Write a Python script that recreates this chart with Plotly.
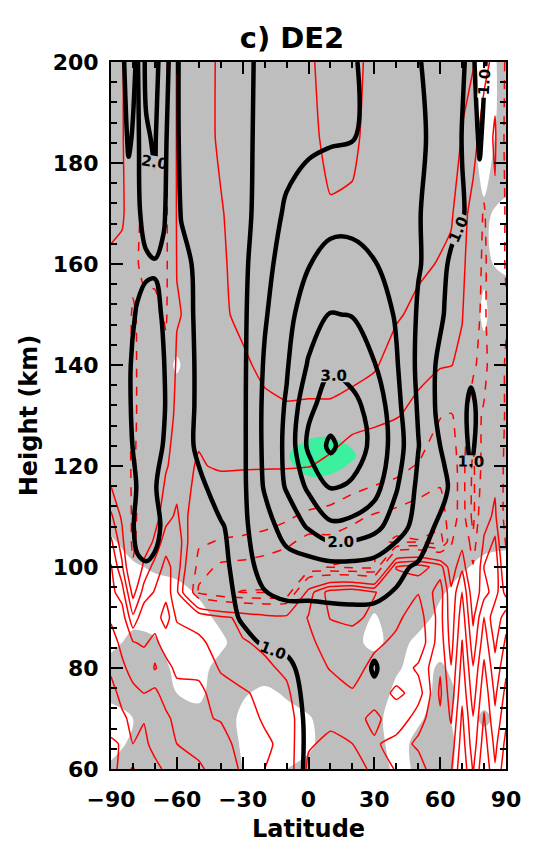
import plotly.graph_objects as go

# ---------------- black contours: amplitude ----------------
LAT_B = [-90, -86, -82, -78, -74, -70, -66, -62, -58, -50, -40, -30, -20, -10, 0, 10, 20, 30, 40, 50, 58, 62, 66, 70, 74, 78, 82, 86, 90]
HGT_B = [60, 70, 80, 90, 100, 108, 116, 124, 132, 140, 150, 160, 170, 185, 200]
AMP_B = [
    [1.15, 1.15, 1.15, 1.15, 1.15, 1.15, 1.15, 1.15, 1.15, 1.15, 1.15, 1.15, 1.15, 1.15, 0.95, 0.90, 0.90, 0.88, 0.88, 0.88, 0.88, 0.88, 0.88, 0.88, 0.88, 0.88, 0.88, 0.88, 0.88],
    [1.18, 1.18, 1.18, 1.18, 1.18, 1.18, 1.18, 1.18, 1.18, 1.18, 1.18, 1.18, 1.18, 1.12, 0.96, 0.90, 0.90, 0.90, 0.88, 0.88, 0.88, 0.88, 0.88, 0.88, 0.88, 0.88, 0.88, 0.88, 0.88],
    [1.18, 1.20, 1.20, 1.20, 1.20, 1.20, 1.20, 1.20, 1.20, 1.18, 1.15, 1.12, 1.08, 1.05, 0.92, 0.88, 0.88, 1.02, 0.88, 0.88, 0.88, 0.88, 0.88, 0.88, 0.88, 0.88, 0.88, 0.88, 0.88],
    [1.15, 1.18, 1.22, 1.25, 1.25, 1.25, 1.25, 1.22, 1.20, 1.15, 1.08, 0.98, 0.88, 0.85, 0.85, 0.86, 0.88, 0.88, 0.88, 0.88, 0.88, 0.88, 0.88, 0.88, 0.88, 0.88, 0.87, 0.86, 0.86],
    [1.15, 1.20, 1.30, 1.45, 1.48, 1.45, 1.35, 1.25, 1.20, 1.15, 1.08, 0.88, 1.10, 1.30, 1.30, 1.35, 1.35, 1.30, 1.08, 0.95, 0.88, 0.88, 0.88, 0.88, 0.88, 0.88, 0.87, 0.86, 0.86],
    [1.15, 1.20, 1.35, 1.60, 1.62, 1.58, 1.45, 1.20, 1.15, 1.12, 1.02, 0.90, 1.30, 1.70, 2.05, 2.40, 2.35, 2.15, 1.75, 1.30, 0.98, 0.92, 0.90, 0.88, 0.90, 0.88, 0.88, 0.86, 0.86],
    [1.15, 1.20, 1.35, 1.52, 1.55, 1.52, 1.40, 1.20, 1.10, 1.05, 0.90, 0.90, 1.55, 2.05, 2.60, 3.05, 2.95, 2.70, 2.05, 1.40, 1.15, 1.05, 0.92, 0.88, 0.95, 0.90, 0.88, 0.85, 0.85],
    [1.15, 1.22, 1.42, 1.60, 1.68, 1.65, 1.48, 1.25, 1.12, 0.95, 0.80, 0.90, 1.60, 2.10, 3.10, 3.60, 3.20, 2.90, 2.25, 1.52, 1.05, 0.95, 0.88, 0.90, 1.05, 0.92, 0.88, 0.85, 0.85],
    [1.15, 1.25, 1.45, 1.65, 1.75, 1.72, 1.55, 1.25, 1.15, 0.95, 0.78, 0.90, 1.60, 2.05, 2.90, 3.20, 3.10, 2.85, 2.15, 1.45, 0.98, 0.90, 0.85, 0.90, 1.08, 0.92, 0.88, 0.85, 0.85],
    [1.15, 1.25, 1.45, 1.65, 1.75, 1.70, 1.52, 1.25, 1.15, 0.95, 0.78, 0.90, 1.55, 1.95, 2.55, 2.95, 2.85, 2.52, 2.05, 1.40, 0.99, 0.88, 0.85, 0.85, 0.90, 0.90, 0.88, 0.85, 0.85],
    [1.15, 1.20, 1.35, 1.55, 1.65, 1.62, 1.45, 1.25, 1.15, 0.93, 0.78, 0.90, 1.45, 1.85, 2.25, 2.52, 2.48, 2.30, 1.95, 1.45, 1.20, 0.98, 0.88, 0.88, 0.90, 0.90, 0.88, 0.85, 0.85],
    [1.15, 1.20, 1.30, 1.35, 1.42, 1.45, 1.42, 1.20, 1.10, 0.93, 0.80, 0.90, 1.30, 1.80, 1.98, 2.15, 2.15, 2.02, 1.85, 1.53, 1.35, 1.05, 0.90, 0.90, 0.92, 0.90, 0.88, 0.85, 0.85],
    [1.20, 1.25, 1.35, 1.40, 1.70, 1.92, 1.55, 1.25, 0.98, 0.78, 0.80, 0.90, 1.15, 1.60, 1.75, 1.85, 1.85, 1.80, 1.72, 1.52, 1.38, 1.25, 1.12, 1.02, 0.94, 0.95, 0.90, 0.85, 0.85],
    [1.20, 1.25, 1.55, 1.40, 1.95, 2.05, 1.60, 1.30, 0.88, 0.75, 0.80, 0.90, 1.12, 1.25, 1.40, 1.45, 1.48, 1.62, 1.70, 1.58, 1.40, 1.28, 1.15, 0.99, 0.92, 1.02, 0.92, 0.85, 0.85],
    [1.20, 1.30, 1.70, 1.45, 2.10, 2.20, 1.70, 1.35, 0.85, 0.75, 0.80, 0.90, 1.10, 1.20, 1.30, 1.40, 1.47, 1.60, 1.65, 1.52, 1.40, 1.25, 1.12, 1.03, 0.93, 1.10, 0.95, 0.85, 0.85],
]

# ---------------- green patch ----------------
LAT_G = [-20, -10, 0, 10, 20, 30]
HGT_G = [114, 118, 122, 126, 130]
VAL_G = [
    [0, 0, 0, 0, 0, 0],
    [0, 0.25, 0.5, 0.45, 0.2, 0],
    [0, 0.45, 0.9, 1.0, 0.6, 0],
    [0, 0.2, 0.4, 0.45, 0.3, 0],
    [0, 0, 0, 0, 0, 0],
]

# ---------------- grey significance mask ----------------
LAT_M = [-90, -80, -70, -60, -50, -40, -30, -20, -10, 0, 10, 20, 30, 40, 50, 60, 70, 80, 90]
HGT_M = [60, 65, 70, 75, 80, 85, 90, 95, 100, 105, 110, 120, 130, 140, 150, 160, 170, 180, 190, 200]
MASK = [
    [0.6, 0.8, 1, 1, 1, 0.8, 0.5, 0.3, 0.5, 0.8, 1, 1, 1, 0.3, 0.6, 0.8, 0.3, 0.2, 0.4],
    [0.3, 0.6, 1, 1, 1, 1, 0.4, 0.2, 0.1, 0.3, 1, 1, 0.8, 0.2, 0.7, 0.9, 0.3, 0.3, 0.5],
    [0.2, 0.5, 1, 0.9, 0.8, 1, 0.3, 0.1, 0.2, 0.4, 1, 1, 0.7, 0.2, 0.4, 0.8, 0.2, 0.6, 0.3],
    [0.7, 1, 1, 0.5, 0.3, 1, 0.6, 0.3, 0.6, 1, 1, 1, 1, 0.3, 0.2, 0.7, 0.4, 0.3, 0.2],
    [0.8, 1, 0.9, 0.3, 0.2, 0.8, 1, 1, 1, 1, 1, 1, 0.9, 0.6, 0.2, 0.6, 0.2, 0.5, 0.4],
    [0.3, 0.7, 0.6, 0.1, 0.1, 0.3, 1, 1, 1, 1, 1, 0.7, 0.3, 0.8, 0.3, 0.2, 0.5, 0.2, 0.3],
    [0.2, 0.3, 0.2, 0.1, 0.2, 0.7, 1, 1, 1, 1, 1, 1, 0.4, 1, 0.8, 0.3, 0.2, 0.3, 0.2],
    [0.2, 0.2, 0.2, 0.2, 0.6, 1, 1, 1, 1, 1, 1, 1, 1, 1, 1, 0.6, 0.2, 0.2, 0.3],
    [0.3, 0.4, 0.6, 0.8, 0.9, 1, 1, 1, 1, 1, 1, 1, 1, 1, 1, 1, 0.6, 0.3, 0.3],
    [0.4, 0.8, 1, 1, 1, 1, 1, 1, 1, 1, 1, 1, 1, 1, 1, 1, 1, 0.7, 0.6],
    [0.8, 1, 1, 1, 1, 1, 1, 1, 1, 1, 1, 1, 1, 1, 1, 1, 1, 1, 1],
    [1, 1, 1, 1, 1, 1, 1, 1, 1, 1, 1, 1, 1, 1, 1, 1, 1, 1, 1],
    [1, 1, 1, 1, 1, 1, 1, 1, 1, 1, 1, 1, 1, 1, 1, 1, 1, 1, 1],
    [1, 1, 1, 0.4, 1, 1, 1, 1, 1, 1, 1, 1, 1, 1, 1, 1, 1, 0.7, 1],
    [1, 1, 1, 1, 1, 1, 1, 1, 1, 1, 1, 1, 1, 1, 1, 1, 1, 0.4, 1],
    [1, 1, 1, 1, 1, 1, 1, 1, 1, 1, 1, 1, 1, 1, 1, 1, 1, 0.6, 0.35],
    [1, 1, 1, 1, 1, 1, 1, 1, 1, 1, 1, 1, 1, 1, 1, 1, 1, 0.6, 0.3],
    [1, 1, 1, 1, 1, 1, 1, 1, 1, 1, 1, 1, 1, 1, 1, 1, 1, 0.3, 0.9],
    [1, 1, 1, 1, 1, 1, 1, 1, 1, 1, 1, 1, 1, 1, 1, 1, 1, 0.1, 0.8],
    [1, 1, 1, 1, 1, 1, 1, 1, 1, 1, 1, 1, 1, 1, 1, 1, 1, 0.1, 0.8],
]

# ---------------- red contours ----------------
LAT_R = [-90, -85, -80, -75, -70, -65, -60, -50, -40, -30, -20, -10, 0, 10, 20, 30, 40, 50, 60, 65, 70, 75, 80, 85, 90]
HGT_R = [60, 65, 70, 75, 80, 85, 90, 95, 100, 105, 110, 120, 130, 140, 150, 160, 170, 185, 200]
RED = [
    [7.5, 6.6, 7.1, 6.2, 6.5, 5.7, 6.0, 5.2, 4.4, 3.9, 3.0, 2.6, 0.8, 0.5, 0.6, 1.2, 2.1, 2.5, 3.9, 3.9, 5.8, 3.9, 5.9, 4.1, 5.7],
    [7.2, 6.9, 6.0, 6.4, 5.4, 5.8, 5.0, 4.6, 4.6, 3.4, 3.3, 2.5, 1.1, 0.8, 1.0, 1.8, 2.5, 3.2, 3.5, 3.4, 5.5, 3.4, 5.5, 3.7, 5.3],
    [6.4, 6.3, 5.6, 5.9, 5.1, 5.3, 4.6, 4.2, 3.9, 3.7, 2.8, 2.4, 1.3, 1.2, 1.4, 2.4, 1.1, 2.6, 3.8, 2.9, 5.2, 3.05, 5.1, 3.2, 4.8],
    [6.6, 5.5, 5.5, 5.0, 5.3, 4.4, 4.6, 4.3, 3.4, 3.05, 2.9, 2.1, 1.5, 1.6, 1.9, 1.2, 2.3, 1.5, 4.2, 2.4, 4.8, 2.5, 4.7, 2.8, 4.3],
    [5.7, 5.4, 4.3, 4.9, 3.9, 4.6, 3.6, 3.7, 2.9, 2.8, 2.1, 1.9, 1.6, 2.05, 2.4, 1.7, 1.3, 2.2, 3.9, 2.05, 4.4, 2.05, 4.2, 2.3, 3.8],
    [5.9, 4.5, 4.1, 3.8, 4.4, 3.2, 3.9, 3.05, 2.9, 2.05, 1.9, 1.5, 1.8, 2.4, 2.6, 2.2, 1.8, 1.2, 3.6, 1.6, 4.05, 1.4, 3.6, 1.8, 3.2],
    [4.7, 4.6, 2.2, 3.8, 3.3, 4.6, 2.8, 2.9, 2.2, 1.8, 1.4, 1.3, 2.05, 3.05, 3.2, 2.8, 2.2, 1.5, 3.4, 1.4, 3.6, 0.8, 3.05, 1.2, 2.6],
    [4.3, 3.5, 0.6, 2.4, 3.1, 3.6, 2.2, -2.2, -2.8, -3.05, -3.05, -2.8, 1.5, 3.5, 3.8, 3.05, 2.5, 2.05, 3.5, 1.2, 3.05, 0.2, 1.6, 2.5, 0.6],
    [4.1, 2.2, -0.8, 1.3, 2.4, 3.3, 2.6, -1.5, -2.2, -2.3, -2.5, -2.6, -2.8, -3.05, -3.2, -3.2, 3.05, 3.5, 2.5, 0.3, 1.8, -0.9, 2.05, 2.8, -0.4],
    [3.2, 1.4, -1.4, 0.3, 1.2, 2.6, 2.8, -0.8, -1.1, -1.2, -1.4, -1.8, -2.3, -2.2, -2.4, -2.6, -3.2, -3.05, -3.5, -1.2, 0.6, -1.8, 1.2, 2.2, -1.2],
    [2.2, 0.8, -1.3, -0.4, 0.6, 1.6, 2.2, -0.2, -0.3, -0.4, -0.5, -0.8, -1.3, -1.5, -1.8, -2.1, -2.3, -2.5, -2.4, -1.6, -0.5, -2.3, 0.4, 1.3, -1.8],
    [0.2, -0.2, -1.2, -0.3, 0.2, 0.9, 1.4, 0.9, 1.15, 1.12, 1.1, 1.1, 1.05, 0.7, 0.0, -0.3, -0.6, -1.1, -1.7, -1.5, -0.6, -2.2, -0.5, 0.5, -1.5],
    [0.3, 0.0, -1.3, -0.4, -0.2, 0.3, 1.3, 1.25, 1.4, 1.5, 1.75, 1.9, 1.9, 1.9, 1.6, 1.4, 1.1, 0.6, -0.95, -1.1, -0.5, -1.6, -0.8, 0.3, -1.2],
    [0.4, 0.2, -1.3, -0.4, -0.3, -0.6, 1.2, 1.3, 1.6, 1.85, 2.2, 2.25, 2.2, 2.2, 2.3, 2.1, 1.6, 1.4, 1.15, 1.05, 0.6, -0.8, -1.5, 0.2, -1.2],
    [0.5, 0.3, -1.2, -0.5, -0.5, -1.2, 0.9, 1.4, 1.85, 2.2, 2.3, 2.3, 2.35, 2.45, 2.4, 2.25, 2.1, 1.8, 1.6, 1.5, 1.1, -0.5, -1.3, 0.4, -0.8],
    [0.6, 0.4, -0.6, -1.4, -1.5, -1.3, 1.05, 1.6, 1.9, 2.25, 2.3, 2.35, 2.4, 2.6, 2.55, 2.4, 2.3, 2.15, 1.95, 1.8, 1.3, 0.2, -1.4, 0.6, -1.2],
    [1.6, 1.3, -0.3, -1.4, -1.5, -1.3, 1.1, 1.7, 1.95, 2.3, 2.35, 2.4, 2.5, 2.9, 2.85, 2.5, 2.4, 2.3, 2.2, 2.1, 1.5, 0.5, -1.2, 0.8, -1.2],
    [1.5, 1.2, -0.5, -1.5, -1.5, -1.3, 1.1, 1.7, 2.1, 2.3, 2.4, 2.5, 2.7, 3.3, 3.2, 2.6, 2.5, 2.4, 2.3, 2.2, 1.98, 1.6, 0.2, 1.2, -1.5],
    [1.5, 1.2, -0.5, -1.5, -1.5, -1.3, 1.1, 1.7, 2.1, 2.3, 2.5, 2.6, 2.8, 3.5, 3.3, 2.7, 2.6, 2.5, 2.3, 2.2, 2.1, 2.05, 1.5, 0.5, -1.2],
]

TITLE = "c) DE2"
X_TICKS = [-90, -60, -30, 0, 30, 60, 90]
X_LABEL = "Latitude"
Y_LABEL = "Height (km)"

FONT = "DejaVu Sans"
GREY = "#bebebe"

fig = go.Figure()

# grey / white significance shading
fig.add_trace(go.Contour(
    x=LAT_M, y=HGT_M, z=MASK,
    contours=dict(start=0.5, end=0.5, size=1, coloring="fill"),
    colorscale=[[0, "white"], [1, GREY]],
    line=dict(width=0), showscale=False, hoverinfo="skip",
))

# green patch
fig.add_trace(go.Contour(
    x=LAT_G, y=HGT_G, z=VAL_G,
    contours=dict(start=0.5, end=0.5, size=1, coloring="fill"),
    colorscale=[[0, "rgba(0,0,0,0)"], [1, "#3cf0a0"]],
    line=dict(width=0), showscale=False, hoverinfo="skip",
))

# red positive (solid) and negative (dashed)
fig.add_trace(go.Contour(
    x=LAT_R, y=HGT_R, z=RED,
    contours=dict(start=1, end=7, size=1, coloring="none"),
    line=dict(color="#ff0000", width=1.5, smoothing=0.4),
    showscale=False, hoverinfo="skip",
))
fig.add_trace(go.Contour(
    x=LAT_R, y=HGT_R, z=RED,
    contours=dict(start=-4, end=-1, size=1, coloring="none"),
    line=dict(color="#ff0000", width=1.5, dash="dash", smoothing=0.4),
    showscale=False, hoverinfo="skip",
))

# black amplitude contours
fig.add_trace(go.Contour(
    x=LAT_B, y=HGT_B, z=AMP_B,
    contours=dict(start=1.5, end=3.5, size=1, coloring="none"),
    line=dict(color="black", width=4.5, smoothing=1.0),
    showscale=False, hoverinfo="skip",
))
fig.add_trace(go.Contour(
    x=LAT_B, y=HGT_B, z=AMP_B,
    contours=dict(start=1.0, end=3.0, size=1, coloring="none", showlabels=True,
                  labelformat=".1f",
                  labelfont=dict(family=FONT, size=15, color="black", weight="bold")),
    line=dict(color="black", width=4.5, smoothing=1.0),
    showscale=False, hoverinfo="skip",
))

tickfont = dict(family=FONT, size=22, color="black", weight="bold")
titlefont = dict(family=FONT, size=24, color="black", weight="bold")

fig.update_xaxes(
    range=[-90, 90], tickvals=X_TICKS, ticks="inside", ticklen=12, tickwidth=2,
    tickcolor="black", showline=True, linewidth=2, linecolor="black", mirror="ticks",
    minor=dict(dtick=10, ticks="inside", ticklen=6, tickwidth=1.5, tickcolor="black"),
    showgrid=False, zeroline=False, tickfont=tickfont, ticklabelstandoff=10,
    title=dict(text=X_LABEL, font=titlefont, standoff=9),
)
fig.update_yaxes(
    range=[60, 200], dtick=20, ticks="inside", ticklen=12, tickwidth=2,
    tickcolor="black", showline=True, linewidth=2, linecolor="black", mirror="ticks",
    minor=dict(dtick=4, ticks="inside", ticklen=6, tickwidth=1.5, tickcolor="black"),
    showgrid=False, zeroline=False, tickfont=tickfont, ticklabelstandoff=6,
    title=dict(text=Y_LABEL, font=titlefont, standoff=8),
)

fig.update_layout(
    width=533, height=850,
    margin=dict(l=111, r=26, t=62, b=78),
    paper_bgcolor="white", plot_bgcolor="white",
    title=dict(text=TITLE, x=292 / 533, xanchor="center", y=1 - 38 / 850, yanchor="middle",
               font=dict(family=FONT, size=29, color="black", weight="bold")),
    showlegend=False,
)

fig.write_html("out.html")
